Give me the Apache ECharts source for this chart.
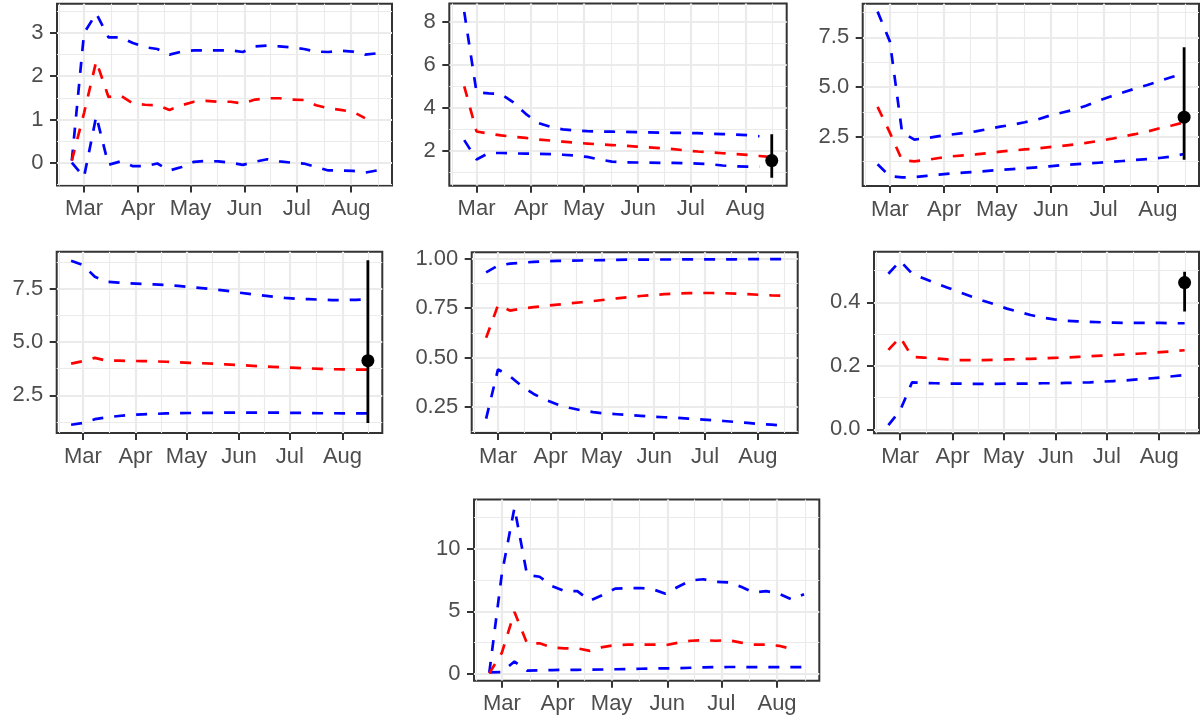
<!DOCTYPE html>
<html><head><meta charset="utf-8">
<script src="https://cdn.jsdelivr.net/npm/echarts@6/dist/echarts.min.js"></script>
<style>html,body{margin:0;padding:0;background:#fff}#chart{width:1203px;height:722px}</style>
</head><body><div id="chart"></div>
<script>
// ---------- data ----------
const dates = ['2021-02-22','2021-03-01','2021-03-08','2021-03-15','2021-03-22','2021-03-29','2021-04-05','2021-04-12','2021-04-19','2021-04-26','2021-05-03','2021-05-10','2021-05-17','2021-05-24','2021-05-31','2021-06-07','2021-06-14','2021-06-21','2021-06-28','2021-07-05','2021-07-12','2021-07-19','2021-07-26','2021-08-02','2021-08-09','2021-08-16'];
const monthTicks = ['2021-03-01','2021-04-01','2021-05-01','2021-06-01','2021-07-01','2021-08-01'];
const monthLabels = ['Mar','Apr','May','Jun','Jul','Aug'];
const obsDate = '2021-08-16';

const p1Upper  = [0.05,3.0,3.45,2.9,2.9,2.77,2.67,2.63,2.5,2.57,2.6,2.6,2.6,2.6,2.56,2.69,2.71,2.69,2.67,2.63,2.57,2.56,2.59,2.57,2.5,2.53];
const p1Median = [0.05,1.15,2.35,1.52,1.55,1.37,1.34,1.33,1.22,1.33,1.41,1.43,1.41,1.41,1.37,1.46,1.49,1.49,1.46,1.45,1.33,1.26,1.22,1.18,1.03,null];
const p1Lower  = [0.0,-0.33,1.08,-0.05,0.03,-0.08,-0.08,-0.02,-0.18,-0.1,0.02,0.04,0.03,0.0,-0.05,0.02,0.08,0.03,0.0,-0.02,-0.1,-0.18,-0.18,-0.19,-0.23,-0.18];
const p1YTicks = [0,1,2,3];
const p1YLabels = ['0','1','2','3'];

const p2Upper  = [8.46,4.72,4.67,4.64,4.25,3.72,3.3,3.12,3.0,2.95,2.92,2.9,2.89,2.88,2.87,2.86,2.85,2.84,2.83,2.82,2.8,2.78,2.76,2.73,2.68,null];
const p2Median = [5.0,2.9,2.8,2.72,2.65,2.6,2.53,2.48,2.43,2.38,2.34,2.3,2.27,2.24,2.2,2.16,2.12,2.08,2.02,1.97,1.93,1.89,1.85,1.81,1.76,1.71];
const p2Lower  = [2.5,1.6,1.9,1.9,1.88,1.87,1.86,1.85,1.82,1.78,1.72,1.6,1.5,1.47,1.46,1.45,1.44,1.44,1.43,1.41,1.38,1.32,1.28,1.27,1.27,null];
const p2Obs = [1.55, 0.75, 2.77]; // value, low, high
const p2YTicks = [2,4,6,8];
const p2YLabels = ['2','4','6','8'];

const p3Upper  = [8.8,7.3,2.7,2.35,2.42,2.52,2.6,2.68,2.76,2.88,3.0,3.1,3.22,3.35,3.55,3.7,3.85,4.05,4.3,4.52,4.72,4.92,5.1,5.3,5.5,5.7];
const p3Median = [4.0,2.7,1.3,1.25,1.32,1.42,1.5,1.55,1.6,1.66,1.74,1.8,1.85,1.9,1.97,2.03,2.1,2.18,2.28,2.38,2.5,2.62,2.75,2.92,3.06,3.22];
const p3Lower  = [1.1,0.5,0.44,0.46,0.52,0.58,0.64,0.68,0.72,0.77,0.82,0.86,0.9,0.95,1.0,1.06,1.1,1.14,1.18,1.22,1.27,1.32,1.36,1.42,1.5,1.62];
const p3Obs = [3.48, 1.33, 7.0];
const p3YTicks = [2.5,5.0,7.5];
const p3YLabels = ['2.5','5.0','7.5'];

const p4Upper  = [8.8,8.6,8.05,7.82,7.78,7.74,7.72,7.69,7.66,7.62,7.57,7.52,7.46,7.4,7.32,7.25,7.18,7.12,7.06,7.02,7.0,6.98,6.96,6.96,6.97,7.0];
const p4Median = [3.98,4.1,4.25,4.12,4.12,4.11,4.1,4.09,4.07,4.05,4.02,4.0,3.98,3.95,3.92,3.89,3.86,3.83,3.8,3.78,3.76,3.74,3.72,3.71,3.7,3.7];
const p4Lower  = [1.12,1.2,1.38,1.47,1.53,1.58,1.61,1.63,1.65,1.66,1.67,1.68,1.68,1.69,1.69,1.69,1.69,1.69,1.68,1.68,1.67,1.66,1.66,1.65,1.65,1.65];
const p4Obs = [4.12, 1.2, 8.83];
const p4YTicks = [2.5,5.0,7.5];
const p4YLabels = ['2.5','5.0','7.5'];

const p5Upper  = [0.932,0.966,0.976,0.981,0.985,0.988,0.990,0.991,0.992,0.993,0.994,0.995,0.996,0.996,0.997,0.997,0.997,0.998,0.998,0.998,0.998,0.998,0.999,0.999,0.999,0.999];
const p5Median = [0.60,0.765,0.738,0.748,0.755,0.762,0.768,0.774,0.78,0.786,0.793,0.80,0.806,0.812,0.817,0.821,0.824,0.826,0.827,0.827,0.826,0.824,0.821,0.818,0.815,0.813];
const p5Lower  = [0.19,0.44,0.405,0.355,0.315,0.285,0.262,0.245,0.232,0.223,0.216,0.212,0.208,0.204,0.2,0.197,0.194,0.19,0.186,0.182,0.178,0.173,0.168,0.163,0.159,0.155];
const p5YTicks = [0.25,0.5,0.75,1.0];
const p5YLabels = ['0.25','0.50','0.75','1.00'];

const p6Upper  = [0.49,0.53,0.49,0.475,0.46,0.446,0.432,0.418,0.405,0.393,0.38,0.37,0.36,0.352,0.346,0.342,0.34,0.338,0.337,0.336,0.335,0.335,0.335,0.335,0.334,0.334];
const p6Median = [0.25,0.29,0.228,0.226,0.223,0.22,0.218,0.218,0.218,0.219,0.22,0.221,0.222,0.223,0.225,0.226,0.228,0.23,0.232,0.234,0.236,0.238,0.24,0.243,0.246,0.249];
const p6Lower  = [0.013,0.06,0.148,0.146,0.145,0.144,0.144,0.143,0.143,0.143,0.144,0.144,0.144,0.145,0.145,0.146,0.147,0.148,0.15,0.152,0.154,0.157,0.16,0.163,0.167,0.171];
const p6Obs = [0.462, 0.371, 0.496];
const p6YTicks = [0.0,0.2,0.4];
const p6YLabels = ['0.0','0.2','0.4'];

const p7Upper  = [0.1,8.0,13.25,7.9,7.75,7.0,6.6,6.6,5.85,6.3,6.8,6.85,6.85,6.75,6.4,6.95,7.45,7.55,7.35,7.3,6.95,6.5,6.6,6.4,5.95,6.35];
const p7Median = [0.05,1.7,4.95,2.45,2.45,2.1,2.05,2.05,1.85,2.15,2.3,2.35,2.35,2.35,2.3,2.5,2.65,2.7,2.65,2.7,2.5,2.35,2.35,2.25,2.0,null];
const p7Lower  = [0.13,0.15,1.0,0.27,0.3,0.32,0.33,0.34,0.35,0.36,0.38,0.4,0.42,0.44,0.45,0.47,0.5,0.53,0.55,0.56,0.56,0.55,0.55,0.55,0.55,0.55];
const p7YTicks = [0,5,10];
const p7YLabels = ['0','5','10'];

// ---------- layout / config ----------
const DAY = 86400000;
const ts = s => Date.parse(s + 'T00:00:00Z');
const t0 = ts('2021-03-01');
const xMin = t0 - 15.5 * DAY, xMax = t0 + 176.5 * DAY;
const majorX = monthTicks.map(ts);
const minorX = (() => {
  const ext = [ts('2021-02-01')].concat(majorX, [ts('2021-09-01')]);
  const out = [];
  for (let i = 0; i < ext.length - 1; i++) out.push((ext[i] + ext[i + 1]) / 2);
  return out.filter(v => v >= xMin && v <= xMax);
})();

const panels = [
  {rect:[57,3.7,335,181.8],   y:[-0.528,3.678], ticks:p1YTicks, labels:p1YLabels, hi:p1Upper, med:p1Median, lo:p1Lower, obs:null},
  {rect:[449.3,3.5,337.4,182.3], y:[0.376,8.85], ticks:p2YTicks, labels:p2YLabels, hi:p2Upper, med:p2Median, lo:p2Lower, obs:p2Obs},
  {rect:[862.7,3.7,336.3,182.3], y:[0.008,9.2], ticks:p3YTicks, labels:p3YLabels, hi:p3Upper, med:p3Median, lo:p3Lower, obs:p3Obs},
  {rect:[56.7,251.8,325.6,181.2], y:[0.734,9.22], ticks:p4YTicks, labels:p4YLabels, hi:p4Upper, med:p4Median, lo:p4Lower, obs:p4Obs},
  {rect:[471.7,252.2,326,180.8], y:[0.117,1.034], ticks:p5YTicks, labels:p5YLabels, hi:p5Upper, med:p5Median, lo:p5Lower, obs:null},
  {rect:[874,251.8,325,181.5],  y:[-0.0126,0.559], ticks:p6YTicks, labels:p6YLabels, hi:p6Upper, med:p6Median, lo:p6Lower, obs:p6Obs},
  {rect:[474,499.5,345.3,181.2], y:[-0.53,13.9], ticks:p7YTicks, labels:p7YLabels, hi:p7Upper, med:p7Median, lo:p7Lower, obs:null}
];

const FONT = {fontFamily:'Liberation Sans, Arial, sans-serif', fontSize:22, color:'#4D4D4D'};
const GRID = '#EBEBEB', INK = '#333333';
const DASH = [11, 11];

const grid = [], xAxis = [], yAxis = [], series = [];
panels.forEach((p, i) => {
  grid.push({left:p.rect[0], top:p.rect[1], width:p.rect[2], height:p.rect[3],
    show:true, borderColor:INK, borderWidth:2, backgroundColor:'#fff', containLabel:false});
  const step = p.ticks[1] - p.ticks[0];
  const minorY = [];
  for (let v = p.ticks[0] - step / 2; v <= p.y[1]; v += step) if (v >= p.y[0]) minorY.push(+v.toFixed(6));
  // major x
  xAxis.push({type:'value', gridIndex:i, min:xMin, max:xMax, position:'bottom',
    axisLine:{show:false, onZero:false},
    axisTick:{show:true, length:7, lineStyle:{color:INK, width:2}, customValues:majorX},
    axisLabel:Object.assign({customValues:majorX, margin:12.5, formatter:v => monthLabels[majorX.indexOf(v)]}, FONT),
    splitLine:{show:true, lineStyle:{color:GRID, width:2.2}}});
  // minor x
  xAxis.push({type:'value', gridIndex:i, min:xMin, max:xMax, position:'top',
    axisLine:{show:false, onZero:false}, axisTick:{show:false, customValues:minorX},
    axisLabel:{show:false}, splitLine:{show:true, lineStyle:{color:GRID, width:1.1}}});
  // major y
  yAxis.push({type:'value', gridIndex:i, min:p.y[0], max:p.y[1], position:'left',
    axisLine:{show:false, onZero:false},
    axisTick:{show:true, length:7, lineStyle:{color:INK, width:2}, customValues:p.ticks},
    axisLabel:Object.assign({customValues:p.ticks, margin:13.5, formatter:v => p.labels[p.ticks.indexOf(v)]}, FONT),
    splitLine:{show:true, lineStyle:{color:GRID, width:2.2}}});
  // minor y
  yAxis.push({type:'value', gridIndex:i, min:p.y[0], max:p.y[1], position:'right',
    axisLine:{show:false, onZero:false}, axisTick:{show:false, customValues:minorY},
    axisLabel:{show:false}, splitLine:{show:true, lineStyle:{color:GRID, width:1.1}}});

  const xi = i * 2, yi = i * 2;
  const mk = (arr, color) => ({type:'line', xAxisIndex:xi, yAxisIndex:yi, silent:true,
    showSymbol:false, symbol:'none', connectNulls:false,
    lineStyle:{color, width:2.7, type:DASH}, z:3,
    data:dates.map((d, k) => [ts(d), arr[k]])});
  series.push(mk(p.lo, '#0000FF'), mk(p.hi, '#0000FF'), mk(p.med, '#FF0000'));
  if (p.obs) {
    const tx = ts(obsDate);
    series.push({type:'line', xAxisIndex:xi, yAxisIndex:yi, silent:true, showSymbol:false, symbol:'none',
      lineStyle:{color:'#000', width:2.8}, z:4, data:[[tx, p.obs[1]], [tx, p.obs[2]]]});
    series.push({type:'scatter', xAxisIndex:xi, yAxisIndex:yi, silent:true, symbolSize:13,
      itemStyle:{color:'#000', opacity:1}, z:5, data:[[tx, p.obs[0]]]});
  }
});

const chart = echarts.init(document.getElementById('chart'), null, {renderer:'canvas'});
chart.setOption({animation:false, backgroundColor:'#fff', grid, xAxis, yAxis, series});
</script></body></html>
